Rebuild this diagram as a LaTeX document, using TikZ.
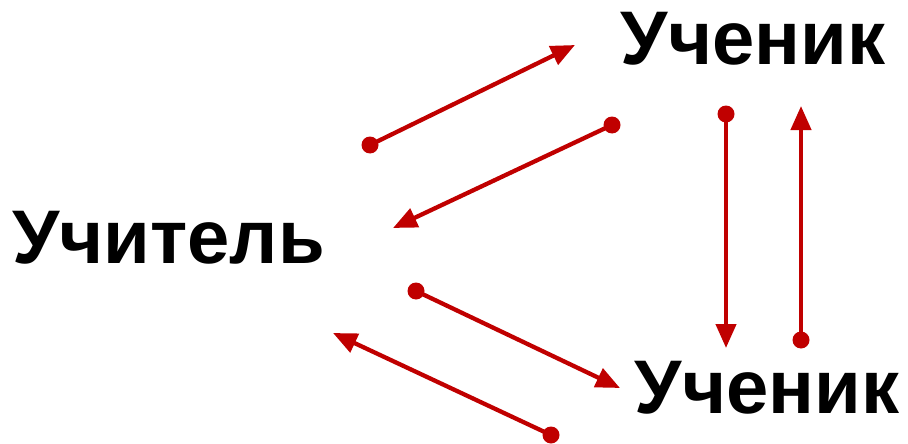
\documentclass[tikz,border=0pt]{standalone}
\usepackage{fontspec}
\setmainfont{Liberation Sans}
\usetikzlibrary{arrows.meta}
\definecolor{arrred}{HTML}{C00000}
\begin{document}
\begin{tikzpicture}[x=1pt,y=-1pt,
  lbl/.style={font=\bfseries\fontsize{76}{82}\selectfont, inner sep=0pt, anchor=base},
  conn/.style={draw=arrred, line width=4.3pt, -{Triangle[length=24pt,width=20pt]}},
  dotc/.style={fill=arrred}]
\useasboundingbox (0,0) rectangle (908,444);
\node[lbl] (teacher) at (168.5,263) {Учитель};
\node[lbl] (s1) at (753,65) {Ученик};
\node[lbl] (s2) at (767,413) {Ученик};
% coordinates
\coordinate (a1s) at (370,145); \coordinate (a1e) at (575,45);
\coordinate (a2s) at (612,125); \coordinate (a2e) at (393,228);
\coordinate (a3s) at (416,291); \coordinate (a3e) at (620,388);
\coordinate (a4s) at (551,435); \coordinate (a4e) at (333,333);
\coordinate (v1s) at (726,114); \coordinate (v1e) at (726,348);
\coordinate (v2s) at (801,340); \coordinate (v2e) at (801,106);
\foreach \s/\e in {a1s/a1e,a2s/a2e,a3s/a3e,a4s/a4e,v1s/v1e,v2s/v2e}{
  \draw[conn] (\s) -- (\e);
  \fill[dotc] (\s) circle (8.5pt);
}
\end{tikzpicture}
\end{document}
